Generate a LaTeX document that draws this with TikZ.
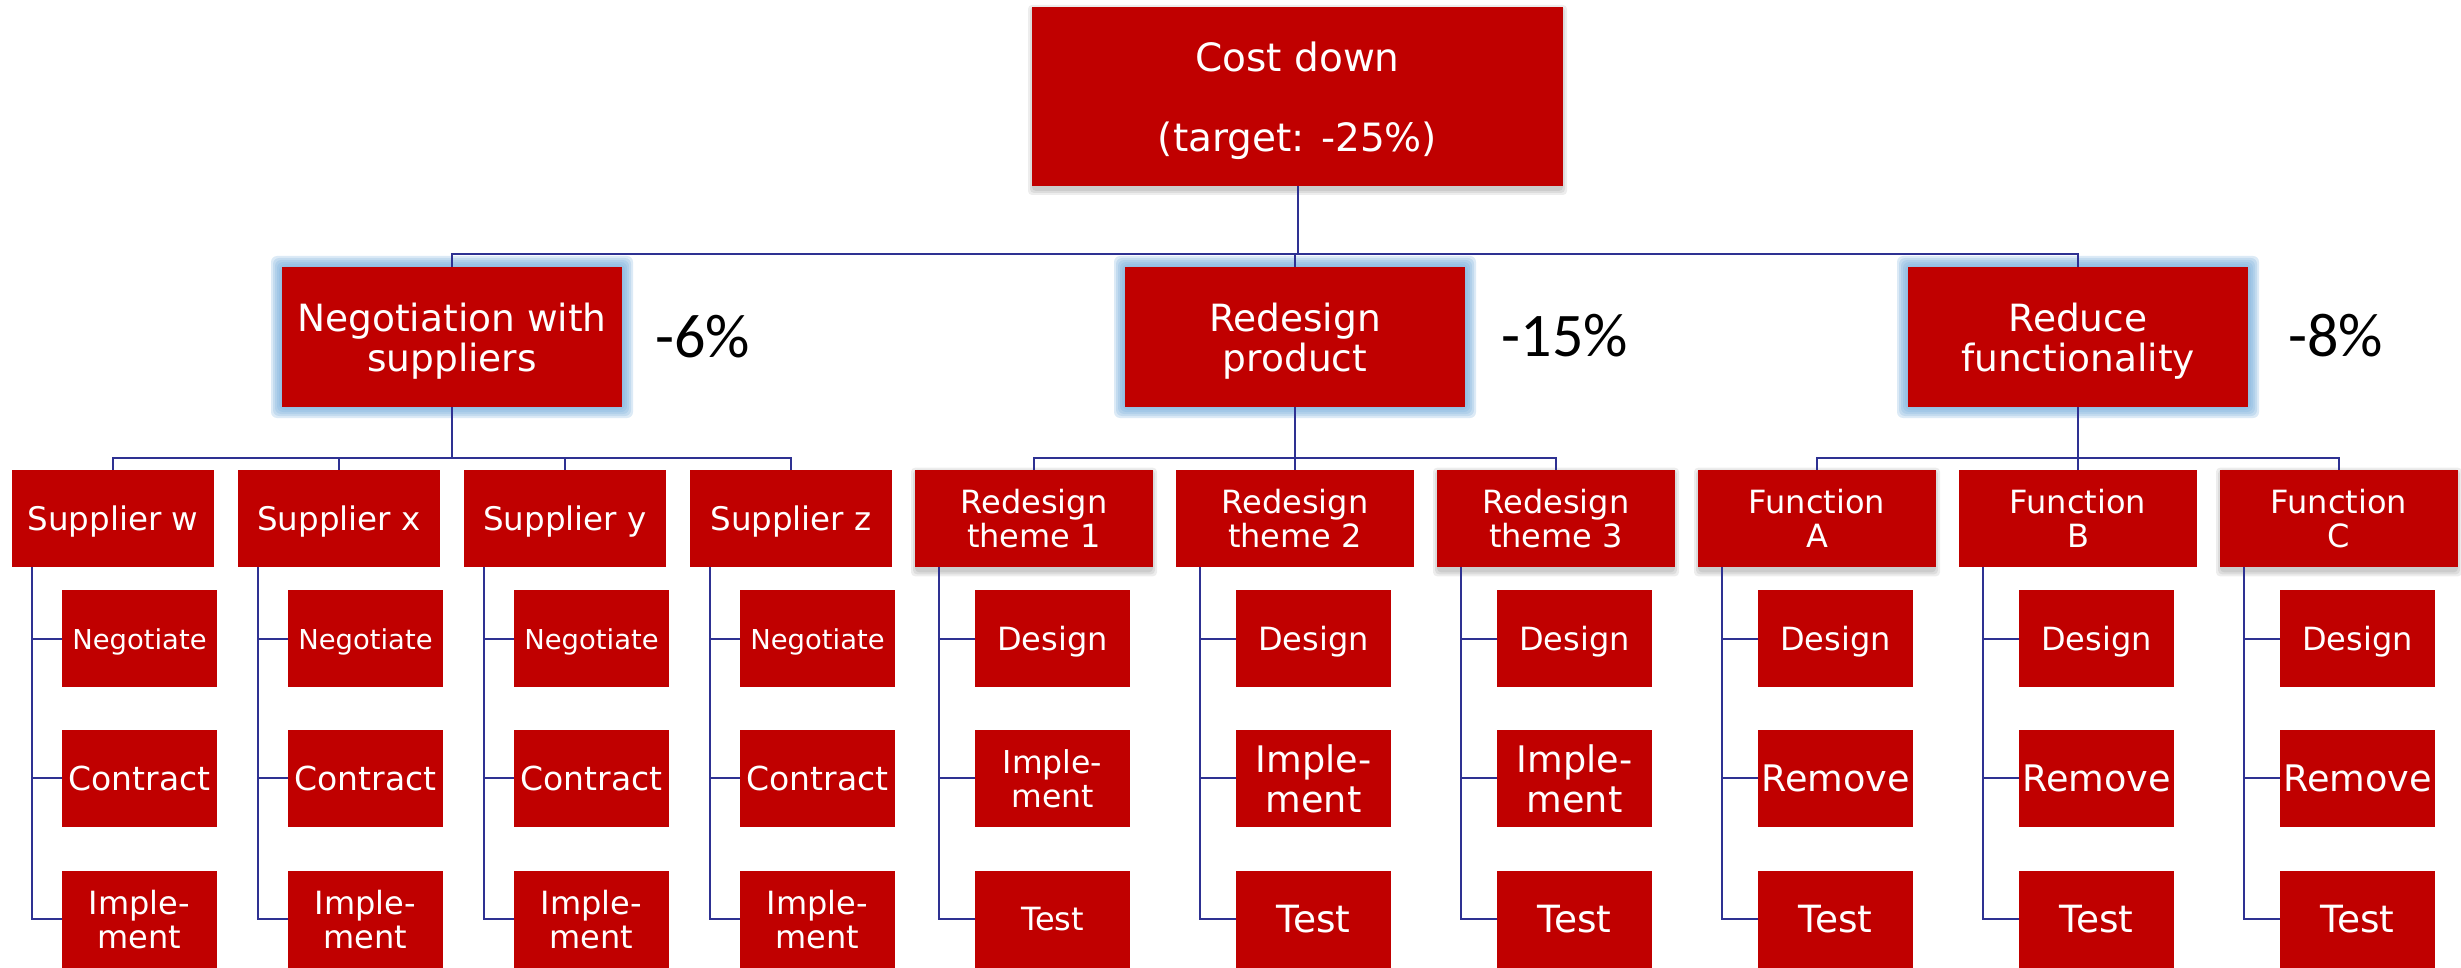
\documentclass[tikz,border=0pt]{standalone}
\usepackage{fontspec}
\setmainfont{DejaVu Sans}
\newfontfamily\pctfont{Carlito}
\usetikzlibrary{calc,backgrounds}
\definecolor{boxred}{HTML}{C00000}
\definecolor{linkblue}{HTML}{2E3192}
\definecolor{glowblue}{HTML}{7FB2DD}
\tikzset{
 redbox/.style={fill=boxred, text=white, inner sep=0pt, outer sep=0pt, align=center, text depth=0pt},
 toplevel/.style={redbox, minimum width=265.5pt, minimum height=89.5pt, font=\fontsize{19.5}{20}\selectfont},
 midlevel/.style={redbox, minimum width=170pt, minimum height=70pt, font=\fontsize{18.75}{20}\selectfont},
 suppbox/.style={redbox, minimum width=101pt, minimum height=48.8pt, font=\fontsize{16.25}{17.2}\selectfont},
 themebox/.style={redbox, minimum width=119pt, minimum height=48.8pt, font=\fontsize{16}{17.2}\selectfont},
 taskbox/.style={redbox, minimum width=77.5pt, minimum height=48.5pt},
 fsmall/.style={font=\fontsize{13.7}{15}\selectfont},
 fmid/.style={font=\fontsize{16}{17.2}\selectfont},
 fcon/.style={font=\fontsize{16.5}{17.2}\selectfont},
 fbig/.style={font=\fontsize{18.3}{20}\selectfont},
 fbigger/.style={font=\fontsize{18.75}{20}\selectfont},
 link/.style={draw=linkblue, line width=1pt},
 pct/.style={font=\pctfont\fontsize{31}{31}\selectfont, text=black, inner sep=0pt, anchor=base},
}
\newcommand\glowbox[1]{%
  \foreach \g in {11,9,7,5,3,1} {%
    \fill[glowblue, opacity=0.27, rounded corners=3pt] ([shift={(-\g,-\g)}]#1.north west) rectangle ([shift={(\g,\g)}]#1.south east);
  }}
\newcommand\dropshade[1]{%
  \foreach \g in {0,2,4} {%
    \fill[black, opacity=0.07, rounded corners=2pt] ([shift={(-\g,2-\g)}]#1.north west) rectangle ([shift={(\g,5+\g)}]#1.south east);
  }}
\begin{document}
\begin{tikzpicture}[x=0.5pt,y=-0.5pt]
\useasboundingbox (0,0) rectangle (2461,968);
% level 1
\node[toplevel] (top) at (1297.5,96.5) {Cost down\\[20pt](target: -25\%)};
% level 2
\node[midlevel] (l2a) at (452,337) {Negotiation with\\suppliers};
\node[midlevel] (l2b) at (1295,337) {Redesign\\product};
\node[midlevel] (l2c) at (2078,337) {Reduce\\functionality};
\node[pct] (p6) at (702.5,357) {-6\%};
\node[pct] (p15) at (1564.7,356) {-15\%};
\node[pct] (p8) at (2335.5,356.7) {-8\%};
% suppliers
\foreach \n/\cx/\lab in {s1/113/Supplier w, s2/339/Supplier x, s3/565/Supplier y, s4/791/Supplier z} {
  \node[suppbox] (\n) at (\cx,518.5) {\lab};
  \node[taskbox, fsmall] (\n-a) at (\cx+26.5,638.7) {Negotiate};
  \node[taskbox, fcon] (\n-b) at (\cx+26.5,778.3) {Contract};
  \node[taskbox, font=\fontsize{16}{16.7}\selectfont] (\n-c) at (\cx+26.5,919.2) {Imple-\\ment};
  \coordinate (\n-v) at ([xshift=10pt]\n.south west);
}
% redesign themes
\node[themebox] (t1) at (1034,518.5) {Redesign\\theme 1};
\node[themebox] (t2) at (1295,518.5) {Redesign\\theme 2};
\node[themebox] (t3) at (1556,518.5) {Redesign\\theme 3};
\node[taskbox, fmid] (t1-a) at (1052.5,638.7) {Design};
\node[taskbox, font=\fontsize{15.75}{17.2}\selectfont] (t1-b) at (1052.5,778.3) {Imple-\\ment};
\node[taskbox, fmid] (t1-c) at (1052.5,919.2) {Test};
\foreach \n/\cx in {t2/1295, t3/1556} {
  \node[taskbox, fmid] (\n-a) at (\cx+18.5,638.7) {Design};
  \node[taskbox, fbig] (\n-b) at (\cx+18.5,778.3) {Imple-\\ment};
  \node[taskbox, fbigger] (\n-c) at (\cx+18.5,919.2) {Test};
}
% functions
\node[themebox] (f1) at (1817,518.5) {Function\\A};
\node[themebox] (f2) at (2078,518.5) {Function\\B};
\node[themebox] (f3) at (2339,518.5) {Function\\C};
\foreach \n/\cx in {f1/1817, f2/2078, f3/2339} {
  \node[taskbox, fmid] (\n-a) at (\cx+18.5,638.7) {Design};
  \node[taskbox, fbig] (\n-b) at (\cx+18.5,778.3) {Remove};
  \node[taskbox, fbigger] (\n-c) at (\cx+18.5,919.2) {Test};
}
\foreach \n in {t1,t2,t3,f1,f2,f3} {
  \coordinate (\n-v) at ([xshift=12pt]\n.south west);
}
\coordinate (busA) at (0,254);
\coordinate (busB) at (0,457.5);
\begin{pgfonlayer}{background}
  \glowbox{l2a}
  \glowbox{l2b}
  \glowbox{l2c}
  \dropshade{top}
  \dropshade{t1}
  \dropshade{t3}
  \dropshade{f1}
  \dropshade{f3}
  % level 1 -> 2
  \draw[link] (top.south) -- (top.south |- busA);
  \draw[link] (l2a.north) -- (l2a.north |- busA) -- (l2c.north |- busA) -- (l2c.north);
  \draw[link] (l2b.north) -- (l2b.north |- busA);
  % level 2 -> 3
  \draw[link] (l2a.south) -- (l2a.south |- busB);
  \draw[link] (s1.north) -- (s1.north |- busB) -- (s4.north |- busB) -- (s4.north);
  \draw[link] (s2.north) -- (s2.north |- busB);
  \draw[link] (s3.north) -- (s3.north |- busB);
  \draw[link] (l2b.south) -- (l2b.south |- busB);
  \draw[link] (t1.north) -- (t1.north |- busB) -- (t3.north |- busB) -- (t3.north);
  \draw[link] (t2.north) -- (t2.north |- busB);
  \draw[link] (l2c.south) -- (l2c.south |- busB);
  \draw[link] (f1.north) -- (f1.north |- busB) -- (f3.north |- busB) -- (f3.north);
  \draw[link] (f2.north) -- (f2.north |- busB);
  % level 3 -> tasks
  \foreach \n in {s1,s2,s3,s4,t1,t2,t3,f1,f2,f3} {
    \draw[link] (\n-v) |- (\n-c.west);
    \draw[link] (\n-v |- \n-a.west) -- (\n-a.west);
    \draw[link] (\n-v |- \n-b.west) -- (\n-b.west);
  }
\end{pgfonlayer}
\end{tikzpicture}
\end{document}
